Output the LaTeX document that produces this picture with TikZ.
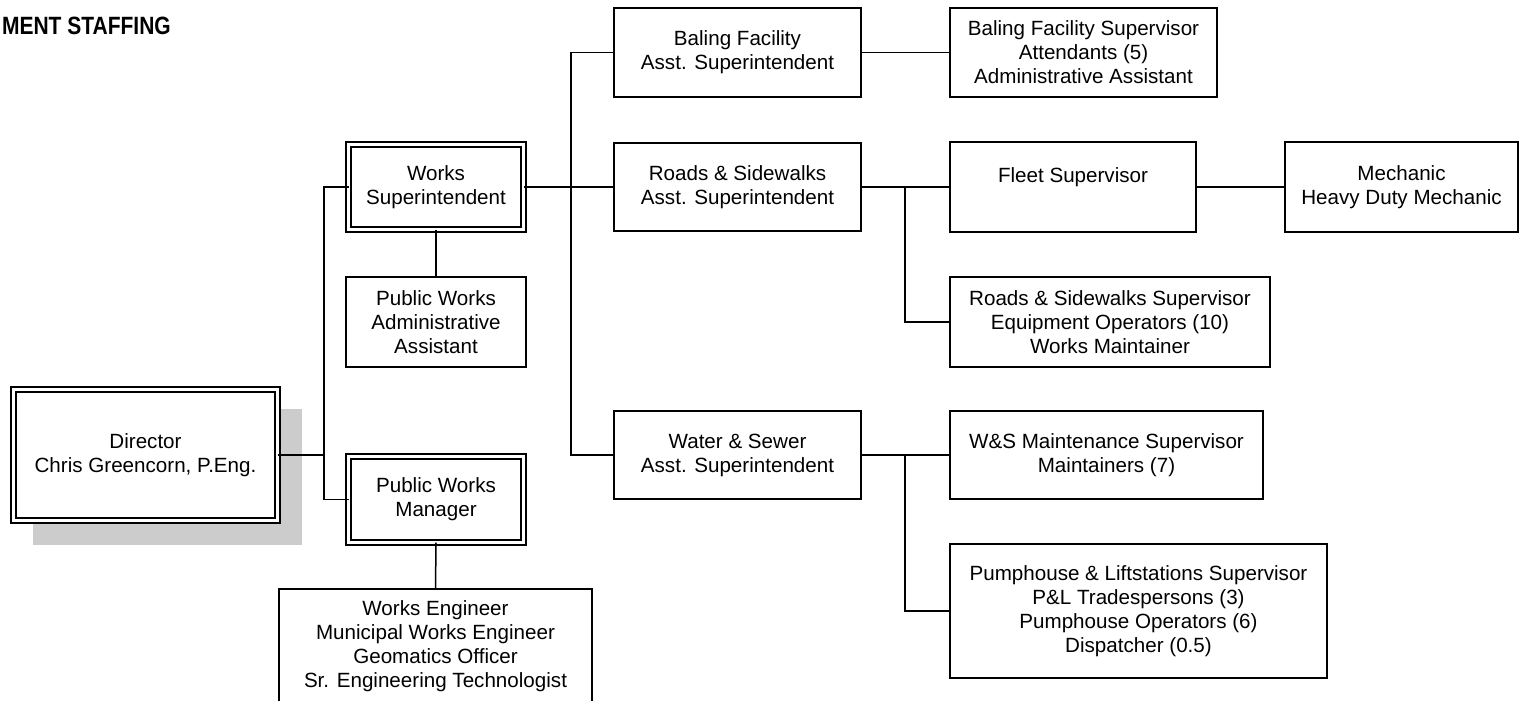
\documentclass[tikz,border=0pt]{standalone}
\usepackage{fontspec}
\setmainfont{Liberation Sans}
\definecolor{shadowgray}{gray}{0.80}
\begin{document}
\begin{tikzpicture}[x=1pt,y=-1pt,
  box/.style={draw, fill=white, line width=1.4pt, align=center, inner sep=0pt, outer sep=0pt,
              font=\fontsize{20.6}{24}\selectfont},
  dbox/.style={box, double, double distance=3.4pt, line width=1.4pt},
  link/.style={draw, line width=1.5pt}]
\useasboundingbox (0,0) rectangle (1520,701);
\clip (0,0) rectangle (1520,701);

% title
\node[anchor=base east, inner sep=0pt, font=\fontsize{25}{28}\selectfont\bfseries] (title) at (171,35)
  {\scalebox{0.84}[1]{MENT STAFFING}};

% shadow of the director box
\fill[shadowgray] (33,409) rectangle (302,545);

% left column
\node[dbox, minimum width=264, minimum height=131] (dir) at (145.5,455) {Director\\Chris Greencorn, P.Eng.};
\node[dbox, minimum width=175, minimum height=85] (ws) at (436,187) {Works\\Superintendent};
\node[box, minimum width=180, minimum height=90] (pwa) at (436,322) {Public Works\\Administrative\\Assistant};
\node[dbox, minimum width=175, minimum height=86] (pwm) at (436,499.5) {Public Works\\Manager};
\node[box, minimum width=313, minimum height=115] (we) at (435.5,646.5)
  {Works Engineer\\Municipal Works Engineer\\Geomatics Officer\\Sr. Engineering Technologist};

% middle column
\node[box, minimum width=247, minimum height=89] (bfa) at (737.5,52.5) {Baling Facility\\Asst. Superintendent};
\node[box, minimum width=247, minimum height=88] (rsa) at (737.5,187) {Roads \& Sidewalks\\Asst. Superintendent};
\node[box, minimum width=247, minimum height=88] (wsa) at (737.5,455) {Water \& Sewer\\Asst. Superintendent};

% right column
\node[box, minimum width=267, minimum height=89] (bfs) at (1083.5,52.5)
  {Baling Facility Supervisor\\Attendants (5)\\Administrative Assistant};
\node[box, minimum width=246, minimum height=90] (fleet) at (1073,187) {Fleet Supervisor\\\mbox{}};
\node[box, minimum width=233, minimum height=90] (mech) at (1401.5,187) {Mechanic\\Heavy Duty Mechanic};
\node[box, minimum width=320, minimum height=90] (rss) at (1110,322)
  {Roads \& Sidewalks Supervisor\\Equipment Operators (10)\\Works Maintainer};
\node[box, minimum width=313, minimum height=88] (wsm) at (1106.5,455)
  {W\&S Maintenance Supervisor\\Maintainers (7)};
\node[box, minimum width=377, minimum height=134] (pump) at (1138.5,611)
  {Pumphouse \& Liftstations Supervisor\\P\&L Tradespersons (3)\\Pumphouse Operators (6)\\Dispatcher (0.5)};

% junction points
\coordinate (j1) at (324,455);
\coordinate (j2) at (571,187);
\coordinate (j3) at (905,187);
\coordinate (j4) at (905,455);

% connectors
\path[link] (dir.east) -- (j1);
\path[link] (ws.west) -| (j1) |- (pwm.west);
\path[link] (ws.south) -- (pwa.north);
\path[link] (pwm.south) -- (we.north);
\path[link] (ws.east) -- (rsa.west);
\path[link] (bfa.west) -| (j2) |- (wsa.west);
\path[link] (bfa.east) -- (bfs.west);
\path[link] (rsa.east) -- (fleet.west);
\path[link] (j3) |- (rss.west);
\path[link] (fleet.east) -- (mech.west);
\path[link] (wsa.east) -- (wsm.west);
\path[link] (j4) |- (pump.west);
\end{tikzpicture}
\end{document}
